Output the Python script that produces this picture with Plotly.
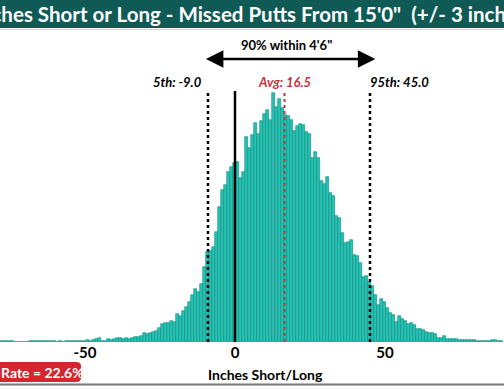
import plotly.graph_objects as go

# bin centers (inches short/long), 1-inch bins
bin_centers = list(range(-78, 90))

# bar heights (relative counts)
counts = [
    1, 1, 1, 1, 1, 0, 0, 0, 0, 0,            # -78 .. -69
    1, 1, 1, 1, 1, 1, 1, 1, 1, 0,            # -68 .. -59
    1, 0, 1, 1, 1, 1, 1, 1, 1, 2,            # -58 .. -49
    1, 2, 3, 4, 1, 1, 3, 2, 3, 4,            # -48 .. -39
    4, 3, 4, 3, 4, 5, 5, 6, 9, 8,            # -38 .. -29
    9, 10, 11, 14, 18, 19, 19, 21, 20, 28,   # -28 .. -19
    26, 31, 35, 40, 47, 53, 50, 58, 75, 90,  # -18 .. -9
    91, 95, 110, 135, 152, 157, 170, 175,    # -8 .. -1
    179, 180, 164, 170, 205, 194, 207, 219, 208, 221,  # 0 .. 9
    228, 232, 222, 249, 235, 243, 234, 227, 226, 222,  # 10 .. 19
    211, 216, 218, 217, 210, 208, 184, 190, 184, 161,  # 20 .. 29
    158, 165, 149, 146, 126, 124, 109, 99, 100, 102,   # 30 .. 39
    87, 86, 79, 65, 66, 60, 56, 47, 37, 43,            # 40 .. 49
    40, 34, 29, 27, 20, 26, 23, 21, 18, 19,            # 50 .. 59
    17, 13, 13, 12, 10, 9, 9, 8, 4, 4,                 # 60 .. 69
    6, 3, 3, 3, 3, 2, 2, 2, 2, 2,                      # 70 .. 79
    2, 1, 1, 1, 1, 1, 2, 2, 1, 1,                      # 80 .. 89
]

tick_vals = [-50, 0, 50]
tick_text = ["-50", "0", "50"]

p5 = -9.0
p95 = 45.0
avg = 16.5
rate_text = "Rate = 22.6%"
title_text = "Inches Short or Long - Missed Putts From 15'0\"  (+/- 3 inches)"
spread_text = "90% within 4'6\""
xlabel = "Inches Short/Long"

FONT = "Lato"
H_TOP = 30      # plot top pixel
H_BASE = 342    # baseline pixel
PH = H_BASE - H_TOP


def py(Y):
    return (H_BASE - Y) / PH


fig = go.Figure()
fig.add_trace(go.Bar(
    x=bin_centers, y=counts,
    marker=dict(color="#25c2b3", line=dict(color="#138a80", width=0.6)),
    width=1.0,
))

shapes = [
    # title band
    dict(type="rect", xref="paper", yref="paper", x0=-0.01, x1=1.01,
         y0=py(28), y1=py(-2), fillcolor="#0f5a55", line=dict(width=0), layer="above"),
    dict(type="line", xref="paper", yref="paper", x0=0, x1=1,
         y0=py(29.5), y1=py(29.5), line=dict(color="#cfd8d7", width=1)),
    # bottom border line
    dict(type="line", xref="paper", yref="paper", x0=-0.01, x1=1.01,
         y0=py(384.5), y1=py(384.5), line=dict(color="#777777", width=2)),
    # red rate box (rounded)
    dict(type="path", xref="paper", yref="paper",
         path=(f"M -0.05,{py(362)} L {76/504},{py(362)} Q {81/504},{py(362)} {81/504},{py(366)} "
               f"L {81/504},{py(378)} Q {81/504},{py(382)} {76/504},{py(382)} L -0.05,{py(382)} Z"),
         fillcolor="#d3262e", line=dict(width=0)),
    # reference lines
    dict(type="line", xref="x", yref="y", x0=p5, x1=p5, y0=0, y1=250,
         line=dict(color="black", width=2.5, dash="dot")),
    dict(type="line", xref="x", yref="y", x0=p95, x1=p95, y0=0, y1=250,
         line=dict(color="black", width=2.5, dash="dot")),
    dict(type="line", xref="x", yref="y", x0=0, x1=0, y0=0, y1=251,
         line=dict(color="black", width=2.5)),
    dict(type="line", xref="x", yref="y", x0=avg, x1=avg, y0=0, y1=250,
         line=dict(color="#c8323c", width=2, dash="dot")),
]

annotations = [
    dict(text=f"<b>{title_text}</b>", xref="paper", yref="paper", x=0.5, y=py(14),
         showarrow=False, font=dict(family=FONT, size=20.5, color="white"),
         xanchor="center", yanchor="middle"),
    dict(text=f"<b>{spread_text}</b>", xref="x", yref="y", x=17.3, y=H_BASE - 45,
         showarrow=False, font=dict(family=FONT, size=13, color="black"),
         xanchor="center", yanchor="middle"),
    dict(text="", xref="x", yref="y", x=46.8, y=H_BASE - 59, ax=-10.2, ay=H_BASE - 59,
         axref="x", ayref="y", showarrow=True, arrowside="end+start", arrowhead=2,
         arrowsize=1.4, arrowwidth=2.5, arrowcolor="black"),
    dict(text=f"<b><i>5th: {p5:.1f}</i></b>", xref="x", yref="y", x=p5 - 1.3, y=H_BASE - 82,
         showarrow=False, font=dict(family=FONT, size=13, color="black"),
         xanchor="right", yanchor="middle"),
    dict(text=f"<b><i>Avg: {avg:.1f}</i></b>", xref="x", yref="y", x=avg, y=H_BASE - 82,
         showarrow=False, font=dict(family=FONT, size=13, color="#c8323c"),
         xanchor="center", yanchor="middle"),
    dict(text=f"<b><i>95th: {p95:.1f}</i></b>", xref="x", yref="y", x=p95 - 0.5, y=H_BASE - 82,
         showarrow=False, font=dict(family=FONT, size=13, color="black"),
         xanchor="left", yanchor="middle"),
    dict(text=f"<b>{xlabel}</b>", xref="paper", yref="paper", x=265 / 504, y=py(374),
         showarrow=False, font=dict(family=FONT, size=14, color="black"),
         xanchor="center", yanchor="middle"),
    dict(text=f"<b>{rate_text}</b>", xref="paper", yref="paper", x=-0.002, y=py(372),
         showarrow=False, font=dict(family=FONT, size=14, color="white"),
         xanchor="left", yanchor="middle"),
]

fig.update_layout(
    width=504, height=389,
    margin=dict(l=0, r=0, t=H_TOP, b=389 - H_BASE, pad=0),
    paper_bgcolor="white", plot_bgcolor="white",
    showlegend=False, bargap=0,
    shapes=shapes, annotations=annotations,
    xaxis=dict(range=[-78.33, 89.67], tickvals=tick_vals, ticktext=tick_text,
               showgrid=False, zeroline=False, showline=False, ticks="",
               tickfont=dict(family=FONT, size=15, color="black", weight="bold")),
    yaxis=dict(range=[0, PH], visible=False, showgrid=False, zeroline=False),
)

fig.write_html(
    "out.html",
    config={"displayModeBar": False},
    post_script="document.body.style.margin='0';document.body.style.padding='0';"
                "document.body.style.overflow='hidden';",
)
